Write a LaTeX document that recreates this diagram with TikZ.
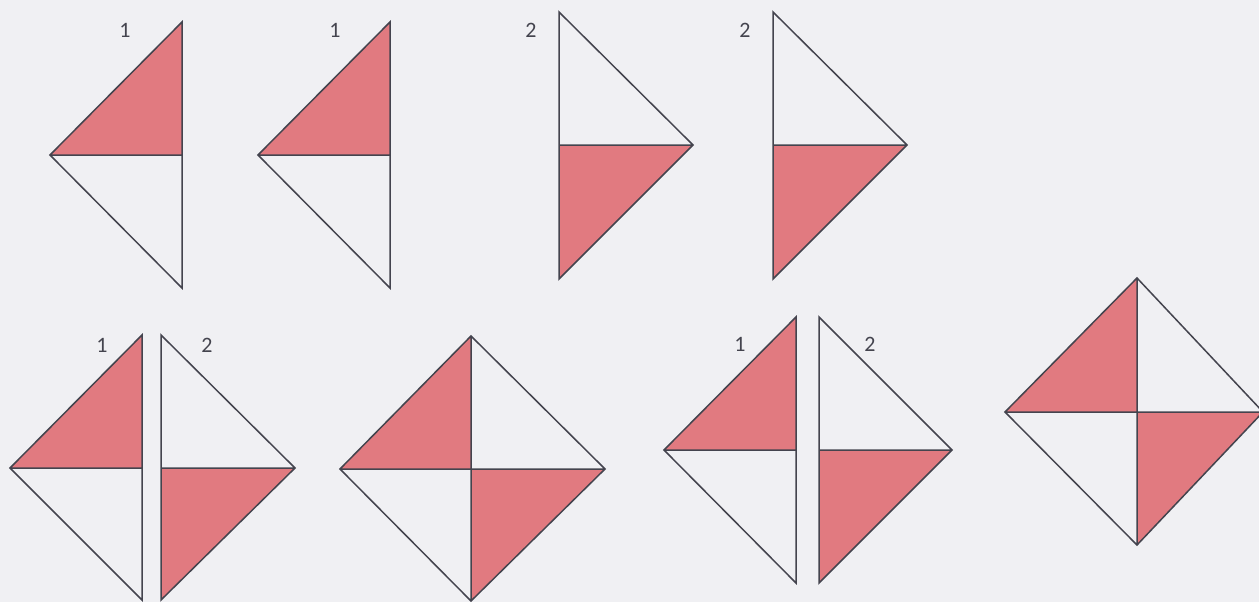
\documentclass[tikz,border=0pt]{standalone}
\usepackage{fontspec}
\setmainfont{Carlito}
\definecolor{bg}{RGB}{240,240,243}
\definecolor{pinkfill}{RGB}{225,122,128}
\definecolor{edge}{RGB}{68,68,78}
\tikzset{
  half/.style={fill=pinkfill},
  outline/.style={draw=edge,line width=1.5pt,line join=miter},
  lbl/.style={font=\fontsize{22}{22}\selectfont,text=edge,inner sep=0pt}
}
\begin{document}
\begin{tikzpicture}[x=1pt,y=-1pt]
\useasboundingbox (0,0) rectangle (1259,602);
\fill[bg] (0,0) rectangle (1259,602);
% ---------- row 1 ----------
% A
\fill[half] (182,22) -- (50,155) -- (182,155) -- cycle;
\draw[outline] (182,22) -- (50,155) -- (182,288) -- cycle (50,155) -- (182,155);
\node[lbl] (la) at (125,30) {1};
% B
\fill[half] (390,22) -- (258,155) -- (390,155) -- cycle;
\draw[outline] (390,22) -- (258,155) -- (390,288) -- cycle (258,155) -- (390,155);
\node[lbl] (lb) at (335,30) {1};
% C
\fill[half] (559,145) -- (693,145) -- (559,279) -- cycle;
\draw[outline] (559,12) -- (693,145) -- (559,279) -- cycle (559,145) -- (693,145);
\node[lbl] (lc) at (531,30) {2};
% D
\fill[half] (773,145) -- (907,145) -- (773,279) -- cycle;
\draw[outline] (773,12) -- (907,145) -- (773,279) -- cycle (773,145) -- (907,145);
\node[lbl] (ld) at (745,30) {2};
% ---------- row 2 ----------
% E pair
\fill[half] (142,335) -- (10,468) -- (142,468) -- cycle;
\draw[outline] (142,335) -- (10,468) -- (142,600) -- cycle (10,468) -- (142,468);
\fill[half] (161,468) -- (295,468) -- (161,600) -- cycle;
\draw[outline] (161,335) -- (295,468) -- (161,600) -- cycle (161,468) -- (295,468);
\node[lbl] (le1) at (102,345) {1};
\node[lbl] (le2) at (207,345) {2};
% F diamond
\fill[half] (471,336) -- (340,469) -- (471,469) -- cycle;
\fill[half] (471,469) -- (605,469) -- (471,601) -- cycle;
\draw[outline] (471,336) -- (605,469) -- (471,601) -- (340,469) -- cycle
  (340,469) -- (605,469) (471,336) -- (471,601);
% G pair
\fill[half] (796,317) -- (664,450) -- (796,450) -- cycle;
\draw[outline] (796,317) -- (664,450) -- (796,583) -- cycle (664,450) -- (796,450);
\fill[half] (819,450) -- (952,450) -- (819,583) -- cycle;
\draw[outline] (819,317) -- (952,450) -- (819,583) -- cycle (819,450) -- (952,450);
\node[lbl] (lg1) at (740,344) {1};
\node[lbl] (lg2) at (870,344) {2};
% H diamond
\fill[half] (1137,278) -- (1005,412) -- (1137,412) -- cycle;
\fill[half] (1137,412) -- (1263,412) -- (1137,545) -- cycle;
\draw[outline] (1137,278) -- (1263,412) -- (1137,545) -- (1005,412) -- cycle
  (1005,412) -- (1263,412) (1137,278) -- (1137,545);
\end{tikzpicture}
\end{document}
